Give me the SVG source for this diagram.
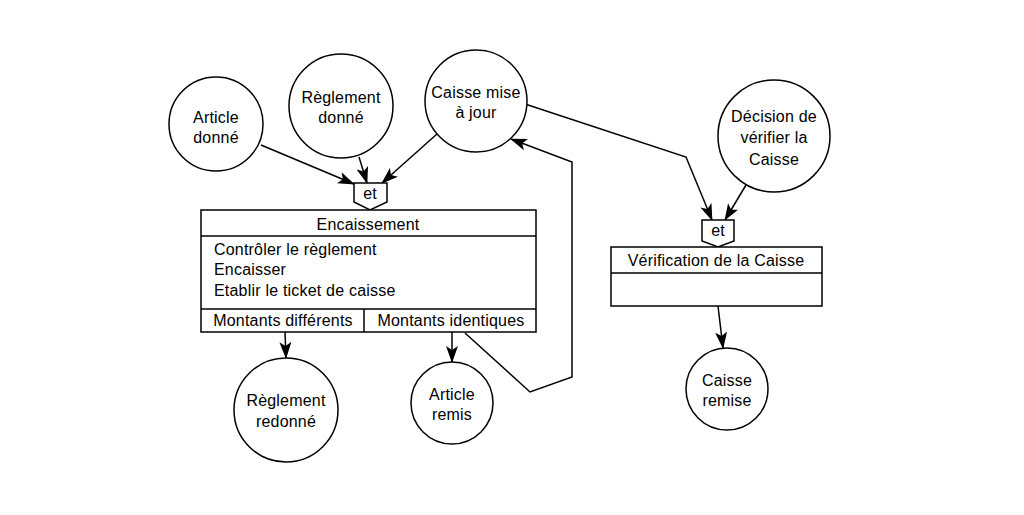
<svg xmlns="http://www.w3.org/2000/svg" width="1024" height="515" viewBox="0 0 1024 515">
<style>
.n{fill:#fff;stroke:#000;stroke-width:1.5}
.l{fill:none;stroke:#000;stroke-width:1.5}
text{font-family:"Liberation Sans",Arial,sans-serif;font-size:16px;fill:#000;letter-spacing:0.2px}
.c{text-anchor:middle}
</style>
<defs>
<marker id="a" viewBox="0 0 17 12" refX="16" refY="6" markerWidth="17" markerHeight="12" markerUnits="userSpaceOnUse" orient="auto">
<path d="M0,0 L17,6 L0,12 L4,6 Z" fill="#000"/>
</marker>
</defs>
<rect width="1024" height="515" fill="#fff"/>
<g id="connectors">
<line class="l" x1="261" y1="145" x2="354" y2="184" marker-end="url(#a)"/>
<line class="l" x1="359" y1="157" x2="367" y2="183" marker-end="url(#a)"/>
<line class="l" x1="437" y1="134" x2="382" y2="183" marker-end="url(#a)"/>
<polyline class="l" points="525,104 686,157 712,220" marker-end="url(#a)"/>
<line class="l" x1="746" y1="185" x2="725" y2="220" marker-end="url(#a)"/>
<line class="l" x1="718" y1="306" x2="723" y2="348" marker-end="url(#a)"/>
<line class="l" x1="285" y1="332" x2="286" y2="358" marker-end="url(#a)"/>
<line class="l" x1="452" y1="332" x2="452" y2="362" marker-end="url(#a)"/>
<polyline class="l" points="465,333 530,392 572,377 572,162 511,139" marker-end="url(#a)"/>
</g>
<g id="article-donne">
<circle class="n" cx="216" cy="124" r="47"/>
<text class="c" x="216" y="123">Article</text>
<text class="c" x="216" y="143">donné</text>
</g>
<g id="reglement-donne">
<circle class="n" cx="341" cy="106" r="52"/>
<text class="c" x="341" y="103">Règlement</text>
<text class="c" x="341" y="123">donné</text>
</g>
<g id="caisse-mise-a-jour">
<circle class="n" cx="476" cy="101" r="51"/>
<text class="c" x="476" y="98">Caisse mise</text>
<text class="c" x="476" y="118">à jour</text>
</g>
<g id="decision">
<circle class="n" cx="774" cy="136" r="56"/>
<text class="c" x="774" y="122">Décision de</text>
<text class="c" x="774" y="143">vérifier la</text>
<text class="c" x="774" y="165">Caisse</text>
</g>
<g id="et1">
<polygon class="n" points="354,183 387,183 387,202 370,210 354,202"/>
<text class="c" x="370" y="199">et</text>
</g>
<g id="encaissement">
<rect class="n" x="201" y="210" width="335" height="122"/>
<line class="l" x1="201" y1="236" x2="536" y2="236"/>
<line class="l" x1="201" y1="309" x2="536" y2="309"/>
<line class="l" x1="364" y1="309" x2="364" y2="332"/>
<text class="c" x="368" y="230">Encaissement</text>
<text x="214" y="255">Contrôler le règlement</text>
<text x="214" y="275">Encaisser</text>
<text x="214" y="296">Etablir le ticket de caisse</text>
<text class="c" x="283" y="326">Montants différents</text>
<text class="c" x="451" y="326">Montants identiques</text>
</g>
<g id="et2">
<polygon class="n" points="702,220 734,220 734,241 718,247 702,241"/>
<text class="c" x="718" y="236">et</text>
</g>
<g id="verification">
<rect class="n" x="611" y="247" width="211" height="59"/>
<line class="l" x1="611" y1="273" x2="822" y2="273"/>
<text class="c" x="716" y="266">Vérification de la Caisse</text>
</g>
<g id="reglement-redonne">
<circle class="n" cx="286" cy="410" r="52"/>
<text class="c" x="286" y="406">Règlement</text>
<text class="c" x="286" y="427">redonné</text>
</g>
<g id="article-remis">
<circle class="n" cx="452" cy="403" r="41"/>
<text class="c" x="452" y="400">Article</text>
<text class="c" x="452" y="420">remis</text>
</g>
<g id="caisse-remise">
<circle class="n" cx="727" cy="389" r="41"/>
<text class="c" x="727" y="386">Caisse</text>
<text class="c" x="727" y="406">remise</text>
</g>
</svg>
